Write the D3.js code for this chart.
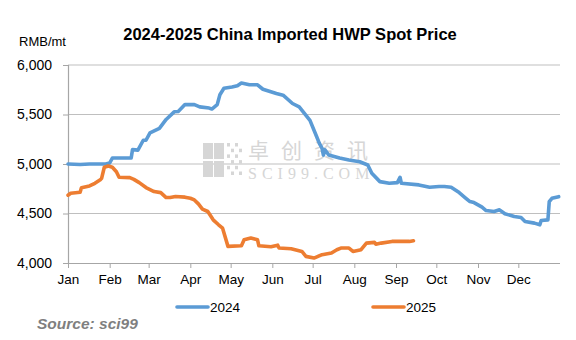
<!DOCTYPE html>
<html><head><meta charset="utf-8">
<script src="https://cdn.jsdelivr.net/npm/d3@7"></script>
<style>body{margin:0;background:#fff}svg{display:block}</style>
</head><body>
<svg id="c" width="576" height="340"></svg>
<script>
const title = "2024-2025 China Imported HWP Spot Price";
const unitLabel = "RMB/mt";
const seriesNames = ["2024", "2025"];
const monthLabels = ["Jan","Feb","Mar","Apr","May","Jun","Jul","Aug","Sep","Oct","Nov","Dec"];
const yTicks = [4000, 4500, 5000, 5500, 6000];

const dates2024 = ["01-01","01-10","01-17","01-29","02-01","02-03","02-17","02-18","02-22","02-26","02-28","03-02","03-09","03-14","03-20","03-23","03-28","04-04","04-08","04-15","04-17","04-21","04-23","04-26","05-02","05-06","05-09","05-15","05-21","05-25","06-04","06-09","06-16","06-21","06-29","07-04","07-06","07-08","07-09","07-10","07-13","07-21","07-28","08-05","08-11","08-14","08-20","08-27","09-02","09-04","09-05","09-18","09-26","10-03","10-07","10-12","10-18","10-23","10-26","10-29","11-04","11-07","11-13","11-17","11-21","11-28","12-03","12-06","12-13","12-17","12-18","12-23","12-24","12-26","12-31"];
const values2024 = [5000,4995,5000,5000,5010,5060,5060,5145,5140,5240,5240,5315,5360,5450,5527,5530,5600,5600,5577,5565,5555,5600,5700,5765,5778,5790,5818,5800,5800,5755,5712,5695,5611,5577,5440,5275,5208,5158,5090,5145,5091,5060,5040,5023,4990,4906,4822,4806,4812,4866,4805,4789,4765,4772,4772,4765,4711,4654,4620,4610,4564,4530,4520,4537,4497,4470,4460,4419,4403,4386,4430,4436,4620,4654,4670];

const dates2025 = ["01-01","01-03","01-10","01-11","01-17","01-21","01-25","01-26","01-28","01-31","02-03","02-06","02-08","02-16","02-19","02-23","02-28","03-05","03-10","03-14","03-17","03-21","03-28","04-01","04-04","04-07","04-10","04-14","04-18","04-22","04-25","04-29","05-09","05-11","05-16","05-21","05-22","05-31","06-05","06-06","06-15","06-23","06-26","07-02","07-08","07-15","07-19","07-22","07-28","07-31","08-06","08-10","08-16","08-17","08-21","08-29","09-11","09-14"];
const values2025 = [4685,4705,4715,4760,4778,4805,4840,4855,4967,4980,4967,4922,4866,4862,4845,4812,4762,4722,4711,4661,4661,4671,4665,4654,4637,4597,4544,4520,4436,4386,4352,4168,4174,4234,4252,4234,4174,4164,4180,4151,4144,4117,4067,4050,4084,4101,4134,4151,4151,4117,4134,4201,4208,4190,4201,4218,4218,4225];

const colors = ["#5b9bd5", "#ed7d31"];
const font = "'Liberation Sans', Arial, sans-serif";
const svg = d3.select("#c");
const L = 68, R = 560, T = 65, B = 263;
const parse = d3.timeParse("%Y-%m-%d");
const x = d3.scaleTime().domain([new Date(2024,0,1), new Date(2025,0,1)]).range([L, R]);
const y = d3.scaleLinear().domain([4000, 6000]).range([B, T]);

// gridlines
svg.append("g").selectAll("line").data(yTicks.slice(1)).join("line")
  .attr("x1", L).attr("x2", R).attr("y1", d => y(d)).attr("y2", d => y(d))
  .attr("stroke", "#bfbfbf").attr("stroke-width", 1.2);

// watermark
const wm = svg.append("g").attr("fill", "#d6d6d6");
[[203,143],[214,143],[203,161],[214,161]].forEach(p => wm.append("rect").attr("x",p[0]).attr("y",p[1]).attr("width",10).attr("height",16));
for (let i=0;i<4;i++) for (let j=0;j<6;j++) if ((i+j)%2===0) wm.append("rect").attr("x",227+i*4).attr("y",143+j*5.7).attr("width",3).attr("height",3.5);
wm.append("text").attr("x", 248).attr("y", 157.5).attr("font-family","'Noto Sans CJK SC', sans-serif").attr("font-size", 21).attr("letter-spacing", 12).text("卓创资讯");
wm.append("text").attr("x", 248).attr("y", 179).attr("font-family","'Liberation Serif', serif").attr("font-size", 16).attr("letter-spacing", 5).text("SCI99.COM");

// y axis
const yAxis = svg.append("g").attr("transform", `translate(${L},0)`)
  .call(d3.axisLeft(y).tickValues(yTicks).tickSize(5).tickFormat(d3.format(",")));
yAxis.select(".domain").attr("stroke", "#a6a6a6").attr("stroke-width", 1.2);
yAxis.selectAll(".tick line").attr("stroke", "#a6a6a6");
yAxis.selectAll("text").attr("font-family", font).attr("font-size", 14).attr("fill", "#000").attr("x", -16);

// x axis
const xAxis = svg.append("g").attr("transform", `translate(0,${B})`)
  .call(d3.axisBottom(x).ticks(d3.timeMonth.every(1)).tickSize(5).tickFormat(d => monthLabels[d.getMonth()]));
xAxis.selectAll(".tick").filter(d => d.getFullYear() > 2024).remove();
xAxis.select(".domain").attr("stroke", "#a6a6a6").attr("stroke-width", 1.2).attr("d", `M${L},0.5H${R}`);
xAxis.selectAll(".tick line").attr("stroke", "#a6a6a6");
xAxis.selectAll("text").attr("font-family", font).attr("font-size", 13.5).attr("fill", "#000").attr("y", 11);

// lines
const line = d3.line().x(d => x(d[0])).y(d => y(d[1])).curve(d3.curveLinear);
const s24 = dates2024.map((d,i) => [parse("2024-"+d), values2024[i]]);
const s25 = dates2025.map((d,i) => [parse("2024-"+d), values2025[i]]);
[s24, s25].forEach((s, i) => svg.append("path").datum(s).attr("d", line)
  .attr("fill", "none").attr("stroke", colors[i]).attr("stroke-width", 3.6)
  .attr("stroke-linejoin", "round").attr("stroke-linecap", "round"));

// title & unit
svg.append("text").attr("x", 290).attr("y", 40).attr("text-anchor", "middle")
  .attr("font-family", font).attr("font-weight", "bold").attr("font-size", 16.5).text(title);
svg.append("text").attr("x", 19).attr("y", 46).attr("font-family", font).attr("font-size", 13).text(unitLabel);

// legend
const legX = [177, 373];
seriesNames.forEach((n, i) => {
  svg.append("line").attr("x1", legX[i]).attr("x2", legX[i] + 31).attr("y1", 307).attr("y2", 307)
    .attr("stroke", colors[i]).attr("stroke-width", 3.6).attr("stroke-linecap", "round");
  svg.append("text").attr("x", legX[i] + 33).attr("y", 312).attr("font-family", font).attr("font-size", 13.5).text(n);
});

// source
svg.append("text").attr("x", 37).attr("y", 329).attr("font-family", font).attr("font-weight", "bold")
  .attr("font-style", "italic").attr("font-size", 15.5).attr("fill", "#7f7f7f").text("Source: sci99");
</script>
</body></html>
